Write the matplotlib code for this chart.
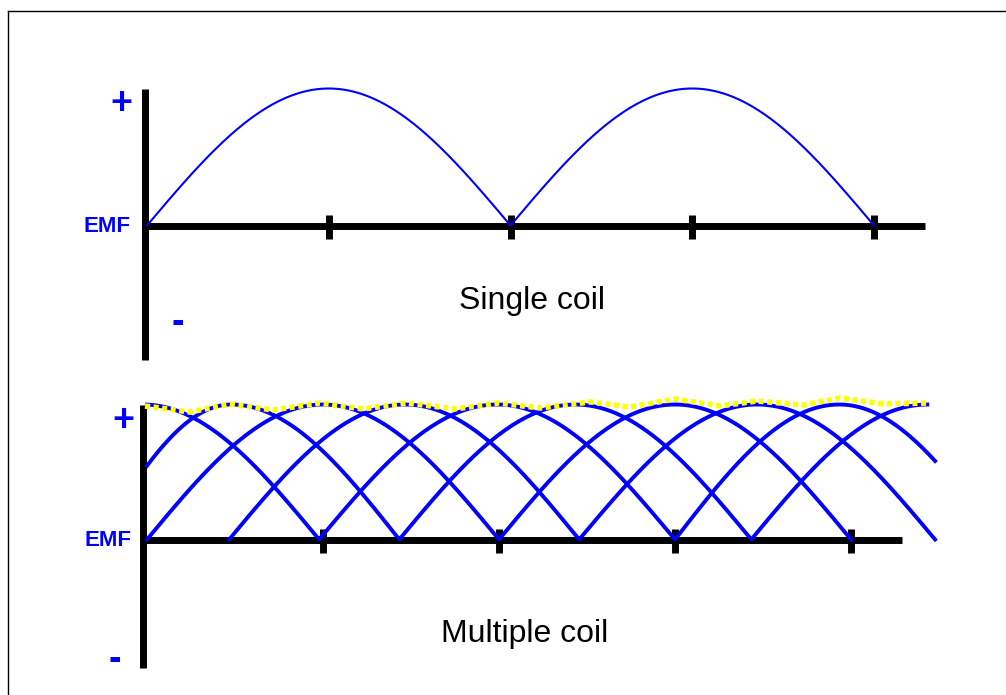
import matplotlib.pyplot as plt
import numpy as np
from matplotlib.lines import Line2D

plt.rcParams['font.family'] = ['Liberation Sans', 'DejaVu Sans']

# rectified half waves as (start, peak, end) in degrees
single_arches = [(0, 90, 180), (180, 270, 360)]

# four coils of the multiple-coil picture
coil_a = [(0, 90, 180), (180, 270, 360)]
coil_b = [(42, 132, 221), (221, 312, 403)]
coil_c = [(-92, -2, 88), (88, 179, 270), (270, 354, 435)]
coil_d = [(-25, 43, 129), (129, 219, 309), (309, 399, 489)]
coils = [coil_a, coil_b, coil_c, coil_d]
coil_range = [(0, 360), (42, 403), (0, 403), (0, 399)]

# hand-drawn ripple (yellow)
ripple_x = [-1, 22, 42.4, 64.4, 88.5, 110.5, 133, 157.5, 179.5, 201, 226.6,
            247, 270, 293, 311.9, 335.5, 354.4, 376.4, 399.4]
ripple_y = [0.989, 0.944, 1.004, 0.959, 1.011, 0.967, 1.011, 0.967, 1.011, 0.974, 1.019,
            0.981, 1.041, 0.989, 1.026, 0.996, 1.048, 1.004, 1.011]

tick_deg = [90, 180, 270, 360]

W, H = 1006, 695
BLUE = '#0000ff'


def wave(x, arches):
    y = np.full_like(x, np.nan)
    for s, p, e in arches:
        left = (x >= s) & (x <= p)
        right = (x > p) & (x <= e)
        y[left] = np.sin(np.pi / 2 * (x[left] - s) / (p - s))
        y[right] = np.sin(np.pi / 2 * (e - x[right]) / (e - p))
    return y


def panel(box, x0, xs, y0, ys):
    # box in pixels (left, top, right, bottom); data origin at (x0, y0) px
    l, t, r, b = box
    ax = fig.add_axes([l / W, 1 - b / H, (r - l) / W, (b - t) / H])
    ax.set_xlim((l - x0) / xs, (r - x0) / xs)
    ax.set_ylim((y0 - b) / ys, (y0 - t) / ys)
    ax.axis('off')
    return ax


def draw_axes(ax, xend, ytop, ybot, tick_up, tick_dn, xv):
    ax.plot([xv, xv], [ytop, ybot], color='k', lw=5.0, solid_capstyle='butt', zorder=1)
    ax.plot([xv, xend], [0, 0], color='k', lw=5.0, solid_capstyle='butt', zorder=1)
    for t in tick_deg:
        ax.plot([t, t], [tick_up, -tick_dn], color='k', lw=5.0, solid_capstyle='butt', zorder=1)


fig = plt.figure(figsize=(W / 100, H / 100), dpi=100)
fig.add_artist(Line2D([8 / W, 1], [1 - 11 / H, 1 - 11 / H], color='k', lw=1))
fig.add_artist(Line2D([8 / W, 8 / W], [0, 1 - 11 / H], color='k', lw=1))

# --- single coil ---
ax1 = panel((60, 40, 990, 385), 147, 727 / 360, 225.5, 137)
draw_axes(ax1, 385.5, 1.0, -0.98, 0.08, 0.1, -0.75)
x = np.linspace(0, 360, 1500)
ax1.plot(x, wave(x, single_arches), color=BLUE, lw=1.5, zorder=2)
ax1.text(-12.9, 0.89, '+', color=BLUE, fontsize=27, fontweight='bold', ha='center', va='center')
ax1.text(-8.4, -0.005, 'EMF', color=BLUE, fontsize=16, fontweight='bold', ha='right', va='center')
ax1.text(15.4, -0.71, '-', color=BLUE, fontsize=27, fontweight='bold', ha='center', va='center')
ax1.text(190.6, -0.55, 'Single coil', color='k', fontsize=23, ha='center', va='center')

# --- multiple coil ---
ax2 = panel((60, 390, 990, 690), 147, 352 / 180, 539.5, 135)
draw_axes(ax2, 386, 1.0, -0.95, 0.075, 0.1, -1.8)
for arches, (a, b) in zip(coils, coil_range):
    x = np.linspace(a, b, 1500)
    ax2.plot(x, wave(x, arches), color=BLUE, lw=2.8, zorder=2)
ax2.plot(ripple_x, ripple_y, color='#ffff00', lw=4, linestyle=(0, (0.9, 0.65)),
         solid_joinstyle='round', zorder=3)
ax2.text(-12.3, 0.88, '+', color=BLUE, fontsize=27, fontweight='bold', ha='center', va='center')
ax2.text(-7.7, -0.005, 'EMF', color=BLUE, fontsize=16, fontweight='bold', ha='right', va='center')
ax2.text(-16.4, -0.89, '-', color=BLUE, fontsize=27, fontweight='bold', ha='center', va='center')
ax2.text(193, -0.70, 'Multiple coil', color='k', fontsize=23, ha='center', va='center')

fig.savefig('out.png', dpi=100)
